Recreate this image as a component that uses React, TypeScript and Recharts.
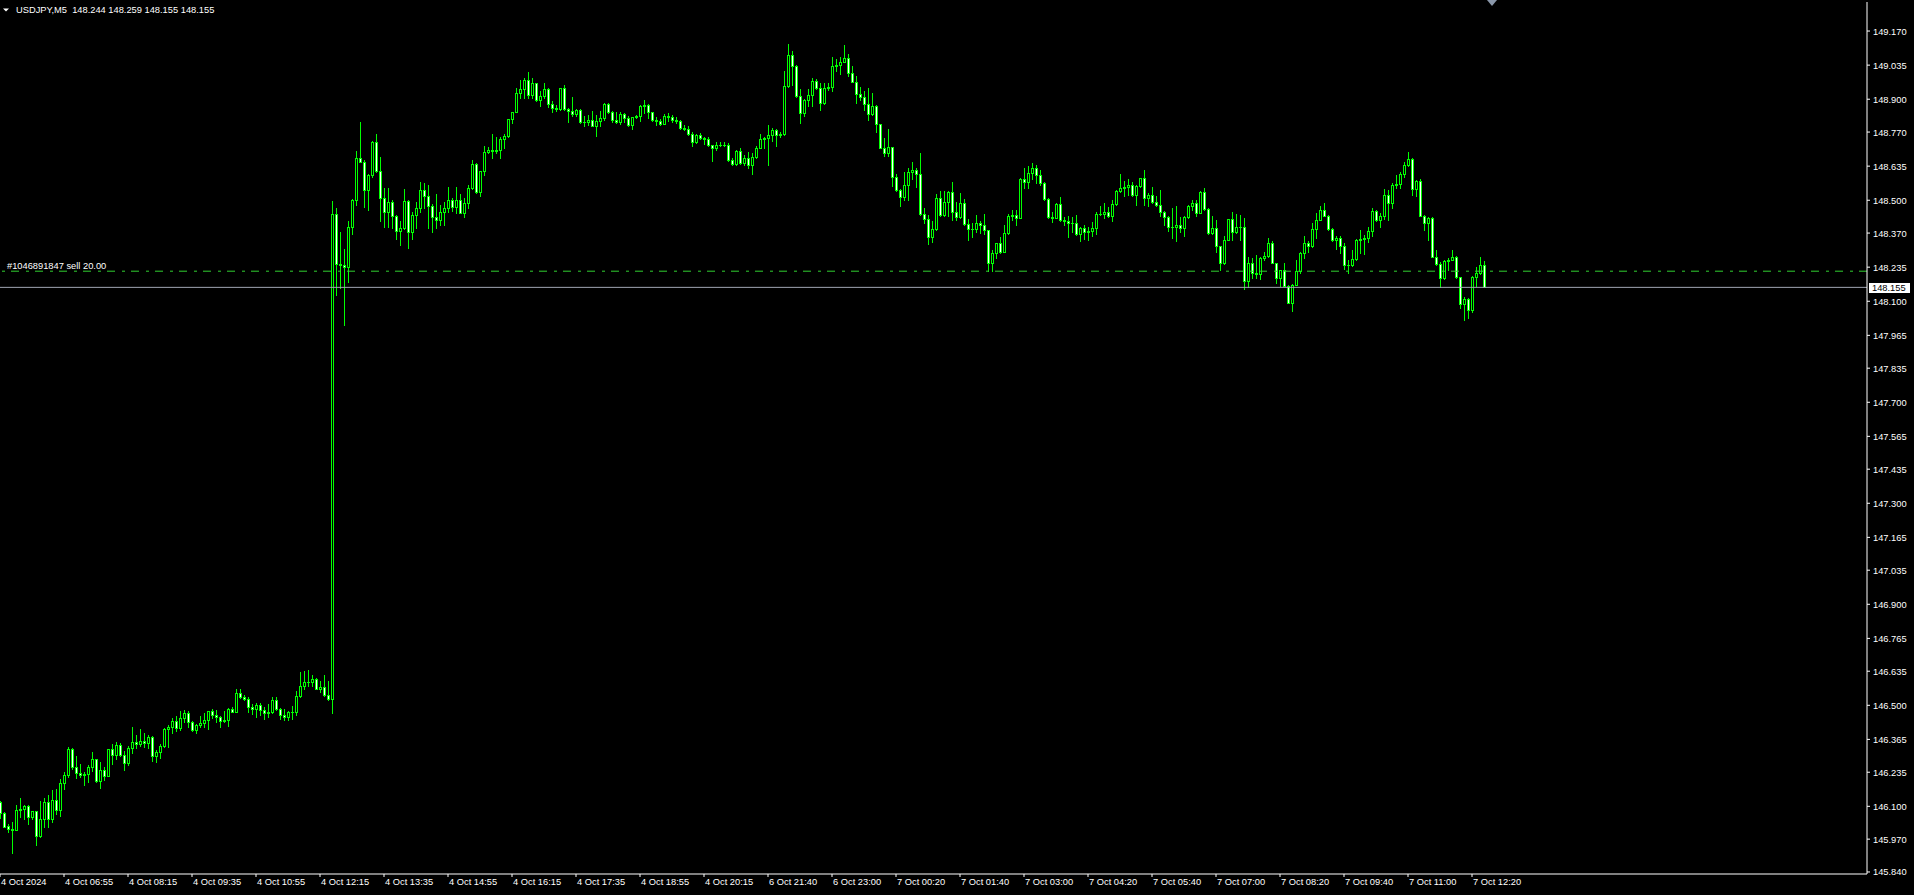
import React from "react";
import { ComposedChart, Bar, XAxis, YAxis, ReferenceLine } from "recharts";

// USDJPY M5, one entry per bar (4 Oct 05:35 .. 7 Oct 12:35)
const opens = [
  146.116, 146.075, 146.022, 146.009, 146.008, 146.084, 146.088, 146.101, 146.059, 146.080,
  145.984, 146.049, 146.116, 146.049, 146.125, 146.084, 146.191, 146.223, 146.327, 146.257,
  146.231, 146.226, 146.227, 146.256, 146.286, 146.199, 146.244, 146.222, 146.327, 146.302,
  146.344, 146.305, 146.273, 146.330, 146.354, 146.347, 146.360, 146.350, 146.376, 146.301,
  146.315, 146.339, 146.406, 146.413, 146.438, 146.410, 146.449, 146.468, 146.433, 146.402,
  146.422, 146.429, 146.442, 146.476, 146.462, 146.453, 146.439, 146.440, 146.486, 146.475,
  146.548, 146.534, 146.524, 146.492, 146.487, 146.500, 146.480, 146.468, 146.472, 146.520,
  146.484, 146.460, 146.455, 146.472, 146.474, 146.537, 146.577, 146.591, 146.594, 146.603,
  146.566, 146.571, 146.540, 146.524, 148.445, 148.249, 148.242, 148.234, 148.393, 148.502,
  148.667, 148.653, 148.539, 148.601, 148.731, 148.614, 148.508, 148.455, 148.495, 148.436,
  148.380, 148.389, 148.498, 148.374, 148.442, 148.469, 148.539, 148.515, 148.479, 148.432,
  148.422, 148.453, 148.469, 148.502, 148.475, 148.499, 148.449, 148.488, 148.548, 148.643,
  148.532, 148.614, 148.690, 148.700, 148.696, 148.699, 148.743, 148.755, 148.821, 148.849,
  148.924, 148.940, 148.977, 148.917, 148.964, 148.895, 148.913, 148.941, 148.880, 148.867,
  148.862, 148.944, 148.861, 148.855, 148.842, 148.858, 148.809, 148.810, 148.818, 148.795,
  148.814, 148.825, 148.882, 148.851, 148.818, 148.809, 148.842, 148.825, 148.796, 148.829,
  148.834, 148.874, 148.878, 148.849, 148.818, 148.814, 148.801, 148.832, 148.830, 148.818,
  148.814, 148.785, 148.783, 148.762, 148.729, 148.759, 148.748, 148.743, 148.717, 148.706,
  148.719, 148.720, 148.718, 148.660, 148.644, 148.696, 148.647, 148.669, 148.640, 148.673,
  148.706, 148.743, 148.745, 148.759, 148.779, 148.759, 148.763, 148.953, 149.076, 149.030,
  148.911, 148.845, 148.898, 148.917, 148.973, 148.946, 148.884, 148.946, 148.950, 149.030,
  149.036, 149.047, 149.063, 149.003, 148.970, 148.920, 148.907, 148.880, 148.841, 148.875,
  148.801, 148.706, 148.686, 148.710, 148.594, 148.539, 148.511, 148.561, 148.611, 148.620,
  148.603, 148.445, 148.425, 148.356, 148.387, 148.508, 148.440, 148.492, 148.532, 148.455,
  148.432, 148.488, 148.405, 148.387, 148.385, 148.409, 148.400, 148.383, 148.253, 148.290,
  148.330, 148.297, 148.370, 148.436, 148.442, 148.429, 148.585, 148.572, 148.607, 148.627,
  148.598, 148.568, 148.504, 148.432, 148.430, 148.484, 148.420, 148.416, 148.409, 148.408,
  148.366, 148.392, 148.374, 148.379, 148.389, 148.445, 148.447, 148.453, 148.438, 148.484,
  148.537, 148.550, 148.552, 148.561, 148.519, 148.557, 148.587, 148.508, 148.521, 148.495,
  148.482, 148.453, 148.432, 148.396, 148.394, 148.400, 148.390, 148.433, 148.478, 148.491,
  148.449, 148.532, 148.465, 148.370, 148.390, 148.317, 148.251, 148.343, 148.425, 148.376,
  148.396, 148.394, 148.182, 148.251, 148.211, 148.209, 148.271, 148.280, 148.330, 148.251,
  148.192, 148.222, 148.161, 148.095, 148.165, 148.218, 148.293, 148.330, 148.317, 148.386,
  148.423, 148.462, 148.438, 148.386, 148.341, 148.350, 148.320, 148.244, 148.245, 148.267,
  148.343, 148.346, 148.350, 148.379, 148.456, 148.420, 148.438, 148.522, 148.489, 148.561,
  148.565, 148.605, 148.640, 148.663, 148.544, 148.578, 148.438, 148.409, 148.429, 148.277,
  148.248, 148.192, 148.258, 148.264, 148.275, 148.196, 148.090, 148.108, 148.066, 148.198,
  148.211, 148.244,
];

const highs = [
  146.120, 146.079, 146.030, 146.037, 146.105, 146.133, 146.105, 146.105, 146.082, 146.081,
  146.121, 146.133, 146.145, 146.165, 146.169, 146.208, 146.235, 146.334, 146.329, 146.298,
  146.268, 146.236, 146.264, 146.315, 146.287, 146.277, 146.257, 146.328, 146.347, 146.355,
  146.351, 146.319, 146.339, 146.414, 146.381, 146.406, 146.389, 146.383, 146.378, 146.323,
  146.347, 146.410, 146.422, 146.449, 146.458, 146.476, 146.480, 146.476, 146.439, 146.425,
  146.458, 146.471, 146.477, 146.486, 146.480, 146.457, 146.478, 146.488, 146.492, 146.565,
  146.565, 146.541, 146.532, 146.504, 146.508, 146.508, 146.495, 146.505, 146.532, 146.532,
  146.491, 146.487, 146.478, 146.497, 146.556, 146.633, 146.635, 146.640, 146.619, 146.608,
  146.596, 146.620, 146.596, 148.498, 148.469, 148.376, 148.308, 148.418, 148.503, 148.696,
  148.809, 148.660, 148.602, 148.735, 148.763, 148.672, 148.548, 148.548, 148.499, 148.443,
  148.416, 148.545, 148.499, 148.453, 148.495, 148.574, 148.568, 148.561, 148.486, 148.525,
  148.482, 148.495, 148.554, 148.508, 148.552, 148.524, 148.508, 148.561, 148.660, 148.647,
  148.615, 148.713, 148.709, 148.763, 148.751, 148.751, 148.763, 148.822, 148.851, 148.944,
  148.977, 148.986, 149.007, 148.986, 148.965, 148.933, 148.964, 148.945, 148.891, 148.878,
  148.945, 148.957, 148.867, 148.909, 148.862, 148.860, 148.832, 148.838, 148.854, 148.838,
  148.854, 148.884, 148.884, 148.854, 148.849, 148.849, 148.845, 148.832, 148.830, 148.838,
  148.878, 148.898, 148.882, 148.851, 148.828, 148.822, 148.842, 148.845, 148.838, 148.828,
  148.818, 148.799, 148.792, 148.772, 148.762, 148.766, 148.752, 148.749, 148.719, 148.730,
  148.730, 148.730, 148.726, 148.667, 148.700, 148.706, 148.680, 148.693, 148.686, 148.713,
  148.762, 148.752, 148.799, 148.785, 148.782, 148.772, 149.010, 149.119, 149.092, 149.037,
  148.941, 148.902, 148.941, 148.986, 148.981, 148.964, 148.964, 148.964, 149.069, 149.060,
  149.069, 149.115, 149.078, 149.030, 148.990, 148.950, 148.933, 148.944, 148.924, 148.878,
  148.802, 148.746, 148.783, 148.711, 148.603, 148.545, 148.610, 148.627, 148.652, 148.627,
  148.686, 148.469, 148.442, 148.416, 148.525, 148.537, 148.537, 148.537, 148.574, 148.495,
  148.528, 148.506, 148.425, 148.409, 148.442, 148.416, 148.445, 148.384, 148.304, 148.331,
  148.356, 148.400, 148.445, 148.462, 148.462, 148.587, 148.627, 148.634, 148.647, 148.640,
  148.620, 148.574, 148.507, 148.455, 148.488, 148.512, 148.433, 148.436, 148.432, 148.442,
  148.396, 148.400, 148.396, 148.413, 148.455, 148.479, 148.488, 148.475, 148.502, 148.541,
  148.603, 148.577, 148.585, 148.574, 148.561, 148.590, 148.620, 148.528, 148.552, 148.515,
  148.541, 148.458, 148.436, 148.469, 148.478, 148.433, 148.438, 148.482, 148.499, 148.499,
  148.535, 148.548, 148.470, 148.436, 148.423, 148.318, 148.359, 148.427, 148.452, 148.446,
  148.442, 148.429, 148.277, 148.271, 148.284, 148.277, 148.297, 148.350, 148.337, 148.252,
  148.225, 148.251, 148.165, 148.169, 148.262, 148.297, 148.357, 148.337, 148.409, 148.449,
  148.478, 148.489, 148.442, 148.390, 148.359, 148.357, 148.330, 148.262, 148.301, 148.346,
  148.383, 148.363, 148.396, 148.469, 148.462, 148.449, 148.544, 148.539, 148.568, 148.601,
  148.610, 148.650, 148.693, 148.667, 148.581, 148.584, 148.442, 148.433, 148.433, 148.304,
  148.254, 148.262, 148.271, 148.301, 148.279, 148.198, 148.116, 148.112, 148.201, 148.235,
  148.275, 148.259,
];

const lows = [
  146.055, 146.017, 146.000, 145.917, 146.006, 146.058, 146.050, 146.031, 146.050, 145.948,
  145.980, 146.020, 146.020, 146.039, 146.070, 146.063, 146.167, 146.215, 146.249, 146.214,
  146.215, 146.186, 146.198, 146.241, 146.198, 146.174, 146.206, 146.221, 146.269, 146.286,
  146.299, 146.245, 146.265, 146.311, 146.329, 146.338, 146.336, 146.329, 146.278, 146.277,
  146.293, 146.335, 146.335, 146.389, 146.400, 146.402, 146.434, 146.416, 146.398, 146.392,
  146.416, 146.413, 146.408, 146.451, 146.433, 146.413, 146.435, 146.420, 146.473, 146.474,
  146.528, 146.521, 146.475, 146.466, 146.453, 146.462, 146.447, 146.455, 146.470, 146.482,
  146.446, 146.442, 146.443, 146.447, 146.463, 146.532, 146.566, 146.577, 146.577, 146.563,
  146.554, 146.537, 146.521, 146.471, 148.123, 148.152, 148.004, 148.178, 148.367, 148.482,
  148.650, 148.475, 148.462, 148.594, 148.612, 148.418, 148.396, 148.396, 148.389, 148.347,
  148.321, 148.388, 148.310, 148.347, 148.392, 148.455, 148.471, 148.389, 148.376, 148.389,
  148.403, 148.400, 148.453, 148.458, 148.449, 148.448, 148.432, 148.469, 148.546, 148.530,
  148.515, 148.598, 148.686, 148.667, 148.686, 148.667, 148.706, 148.752, 148.805, 148.848,
  148.904, 148.904, 148.904, 148.904, 148.894, 148.874, 148.904, 148.871, 148.851, 148.854,
  148.858, 148.858, 148.809, 148.832, 148.832, 148.805, 148.792, 148.799, 148.792, 148.756,
  148.792, 148.818, 148.845, 148.809, 148.805, 148.801, 148.809, 148.792, 148.783, 148.825,
  148.812, 148.845, 148.825, 148.814, 148.799, 148.796, 148.800, 148.814, 148.809, 148.805,
  148.783, 148.779, 148.759, 148.713, 148.726, 148.743, 148.722, 148.713, 148.656, 148.700,
  148.713, 148.713, 148.656, 148.640, 148.640, 148.643, 148.640, 148.627, 148.603, 148.669,
  148.705, 148.706, 148.638, 148.733, 148.713, 148.752, 148.760, 148.950, 148.957, 148.908,
  148.805, 148.832, 148.875, 148.875, 148.941, 148.858, 148.882, 148.937, 148.931, 149.010,
  149.000, 149.046, 148.990, 148.968, 148.884, 148.898, 148.858, 148.818, 148.838, 148.772,
  148.705, 148.677, 148.677, 148.558, 148.538, 148.479, 148.499, 148.499, 148.585, 148.554,
  148.442, 148.409, 148.326, 148.334, 148.383, 148.436, 148.436, 148.436, 148.422, 148.422,
  148.430, 148.403, 148.343, 148.356, 148.374, 148.370, 148.368, 148.220, 148.220, 148.271,
  148.290, 148.296, 148.368, 148.422, 148.400, 148.428, 148.550, 148.550, 148.585, 148.568,
  148.561, 148.499, 148.430, 148.412, 148.428, 148.419, 148.400, 148.356, 148.376, 148.363,
  148.337, 148.347, 148.343, 148.360, 148.366, 148.442, 148.429, 148.435, 148.416, 148.482,
  148.534, 148.515, 148.519, 148.515, 148.482, 148.554, 148.482, 148.479, 148.488, 148.479,
  148.436, 148.400, 148.379, 148.352, 148.337, 148.376, 148.357, 148.429, 148.462, 148.438,
  148.448, 148.462, 148.367, 148.367, 148.297, 148.222, 148.249, 148.341, 148.341, 148.372,
  148.343, 148.148, 148.156, 148.192, 148.192, 148.188, 148.265, 148.277, 148.250, 148.172,
  148.161, 148.160, 148.094, 148.060, 148.163, 148.211, 148.271, 148.297, 148.316, 148.350,
  148.420, 148.436, 148.383, 148.337, 148.306, 148.291, 148.227, 148.211, 148.240, 148.264,
  148.291, 148.288, 148.333, 148.357, 148.416, 148.396, 148.425, 148.423, 148.469, 148.548,
  148.548, 148.594, 148.636, 148.522, 148.515, 148.436, 148.383, 148.341, 148.276, 148.244,
  148.156, 148.188, 148.225, 148.262, 148.192, 148.073, 148.024, 148.033, 148.056, 148.159,
  148.209, 148.155,
];

const closes = [
  146.072, 146.020, 146.009, 146.008, 146.084, 146.088, 146.101, 146.059, 146.080, 145.984,
  146.049, 146.116, 146.049, 146.125, 146.084, 146.191, 146.223, 146.327, 146.257, 146.231,
  146.226, 146.227, 146.256, 146.286, 146.199, 146.244, 146.222, 146.327, 146.302, 146.344,
  146.305, 146.273, 146.330, 146.354, 146.347, 146.360, 146.350, 146.376, 146.301, 146.315,
  146.339, 146.406, 146.413, 146.438, 146.410, 146.449, 146.468, 146.433, 146.402, 146.422,
  146.429, 146.442, 146.476, 146.462, 146.453, 146.439, 146.440, 146.486, 146.475, 146.548,
  146.534, 146.524, 146.492, 146.487, 146.500, 146.480, 146.468, 146.472, 146.520, 146.484,
  146.460, 146.455, 146.472, 146.474, 146.537, 146.577, 146.591, 146.594, 146.603, 146.566,
  146.571, 146.540, 146.524, 148.445, 148.249, 148.242, 148.234, 148.393, 148.502, 148.667,
  148.653, 148.539, 148.601, 148.731, 148.614, 148.508, 148.455, 148.495, 148.436, 148.380,
  148.389, 148.498, 148.374, 148.442, 148.469, 148.539, 148.515, 148.479, 148.432, 148.422,
  148.453, 148.469, 148.502, 148.475, 148.499, 148.449, 148.488, 148.548, 148.643, 148.532,
  148.614, 148.690, 148.700, 148.696, 148.699, 148.743, 148.755, 148.821, 148.849, 148.924,
  148.940, 148.977, 148.917, 148.964, 148.895, 148.913, 148.941, 148.880, 148.867, 148.862,
  148.944, 148.861, 148.855, 148.842, 148.858, 148.809, 148.810, 148.818, 148.795, 148.814,
  148.825, 148.882, 148.851, 148.818, 148.809, 148.842, 148.825, 148.796, 148.829, 148.834,
  148.874, 148.878, 148.849, 148.818, 148.814, 148.801, 148.832, 148.830, 148.818, 148.814,
  148.785, 148.783, 148.762, 148.729, 148.759, 148.748, 148.743, 148.717, 148.706, 148.719,
  148.720, 148.718, 148.660, 148.644, 148.696, 148.647, 148.669, 148.640, 148.673, 148.706,
  148.743, 148.745, 148.759, 148.779, 148.759, 148.763, 148.953, 149.076, 149.030, 148.911,
  148.845, 148.898, 148.917, 148.973, 148.946, 148.884, 148.946, 148.950, 149.030, 149.036,
  149.047, 149.063, 149.003, 148.970, 148.920, 148.907, 148.880, 148.841, 148.875, 148.801,
  148.706, 148.686, 148.710, 148.594, 148.539, 148.511, 148.561, 148.611, 148.620, 148.603,
  148.445, 148.425, 148.356, 148.387, 148.508, 148.440, 148.492, 148.532, 148.455, 148.432,
  148.488, 148.405, 148.387, 148.385, 148.409, 148.400, 148.383, 148.253, 148.290, 148.330,
  148.297, 148.370, 148.436, 148.442, 148.429, 148.585, 148.572, 148.607, 148.627, 148.598,
  148.568, 148.504, 148.432, 148.430, 148.484, 148.420, 148.416, 148.409, 148.408, 148.366,
  148.392, 148.374, 148.379, 148.389, 148.445, 148.447, 148.453, 148.438, 148.484, 148.537,
  148.550, 148.552, 148.561, 148.519, 148.557, 148.587, 148.508, 148.521, 148.495, 148.482,
  148.453, 148.432, 148.396, 148.394, 148.400, 148.390, 148.433, 148.478, 148.491, 148.449,
  148.532, 148.465, 148.370, 148.390, 148.317, 148.251, 148.343, 148.425, 148.376, 148.396,
  148.394, 148.182, 148.251, 148.211, 148.209, 148.271, 148.280, 148.330, 148.251, 148.192,
  148.222, 148.161, 148.095, 148.165, 148.218, 148.293, 148.330, 148.317, 148.386, 148.423,
  148.462, 148.438, 148.386, 148.341, 148.350, 148.320, 148.244, 148.245, 148.267, 148.343,
  148.346, 148.350, 148.379, 148.456, 148.420, 148.438, 148.522, 148.489, 148.561, 148.565,
  148.605, 148.640, 148.663, 148.544, 148.578, 148.438, 148.409, 148.429, 148.277, 148.248,
  148.192, 148.258, 148.264, 148.275, 148.196, 148.090, 148.108, 148.066, 148.198, 148.211,
  148.244, 148.155,
];

// one label every 16 bars
const timeLabels = [
  "4 Oct 2024", "4 Oct 06:55", "4 Oct 08:15", "4 Oct 09:35", "4 Oct 10:55", "4 Oct 12:15",
  "4 Oct 13:35", "4 Oct 14:55", "4 Oct 16:15", "4 Oct 17:35", "4 Oct 18:55", "4 Oct 20:15",
  "6 Oct 21:40", "6 Oct 23:00", "7 Oct 00:20", "7 Oct 01:40", "7 Oct 03:00", "7 Oct 04:20",
  "7 Oct 05:40", "7 Oct 07:00", "7 Oct 08:20", "7 Oct 09:40", "7 Oct 11:00", "7 Oct 12:20",
];
const labelStep = 16;

const priceTicks = [
  145.84, 145.97, 146.1, 146.235, 146.365, 146.5, 146.635, 146.765, 146.9, 147.035,
  147.165, 147.3, 147.435, 147.565, 147.7, 147.835, 147.965, 148.1, 148.235, 148.37,
  148.5, 148.635, 148.77, 148.9, 149.035, 149.17,
];

const symbolTitle = "USDJPY,M5";
const orderText = "#1046891847 sell 20.00";
const orderPrice = 148.219;
const bidPrice = 148.155;

const candles = opens.map((o, i) => ({
  i,
  open: o,
  high: highs[i],
  low: lows[i],
  close: closes[i],
}));

const GREEN = "#00ff00";
const FONT = "'Liberation Sans', Arial, sans-serif";

function Candle(props: any) {
  const { x, y, width, height, payload } = props;
  if (x == null || !payload) return null;
  const top = Math.min(y, y + height);
  const span = Math.abs(height);
  const hi = Math.max(payload.high, payload.open, payload.close);
  const lo = Math.min(payload.low, payload.open, payload.close);
  const toY = (p: number) => top + ((hi - p) / (hi - lo || 1)) * span;
  const cx = Math.round(x + width / 2);
  const wTop = Math.round(toY(hi));
  const wBot = Math.round(toY(lo));
  const bTop = Math.round(toY(Math.max(payload.open, payload.close)));
  const bBot = Math.round(toY(Math.min(payload.open, payload.close)));
  const bear = payload.close < payload.open;
  return (
    <g shapeRendering="crispEdges">
      <rect x={cx} y={wTop} width={1} height={Math.max(1, wBot - wTop + 1)} fill={GREEN} />
      <rect x={cx - 1} y={bTop} width={3} height={Math.max(1, bBot - bTop + 1)} fill={GREEN} />
      {bBot - bTop >= 2 && (
        <rect x={cx} y={bTop + 1} width={1} height={bBot - bTop - 1} fill={bear ? "#ffffff" : "#000000"} />
      )}
    </g>
  );
}

function TimeTick(props: any) {
  const { x, y, payload } = props;
  const label = timeLabels[Math.round(payload.value / labelStep)];
  return (
    <text x={x + 1} y={y + 8} fill="#fff" fontSize={9.3} fontFamily={FONT} textAnchor="start">
      {label}
    </text>
  );
}

function PriceTick(props: any) {
  const { x, y, payload } = props;
  return (
    <text x={x} y={y + 3.5} fill="#fff" fontSize={9.3} fontFamily={FONT} textAnchor="start">
      {Number(payload.value).toFixed(3)}
    </text>
  );
}

function OrderLabel(props: any) {
  const vb = props.viewBox || {};
  return (
    <text x={(vb.x || 0) + 7} y={(vb.y || 0) - 2} fill="#fff" fontSize={9.3} fontFamily={FONT}>
      {orderText}
    </text>
  );
}

function BidLabel(props: any) {
  const vb = props.viewBox || {};
  const right = (vb.x || 0) + (vb.width || 0);
  const ly = vb.y || 0;
  return (
    <g shapeRendering="crispEdges">
      <rect x={right + 2} y={ly - 4.5} width={41} height={10.5} fill="#fff" />
      <text x={right + 5} y={ly + 4} fill="#000" fontSize={9.3} fontFamily={FONT}>
        {bidPrice.toFixed(3)}
      </text>
    </g>
  );
}

export default function App() {
  const tickIdx = timeLabels.map((_, k) => k * labelStep);
  return (
    <div style={{ position: "fixed", left: 0, top: 0, width: 1914, height: 895, background: "#000" }}>
      <ComposedChart
        width={1914}
        height={895}
        data={candles}
        margin={{ top: 2, right: 0, bottom: 0, left: 0 }}
      >
        <XAxis
          xAxisId="top"
          orientation="top"
          height={0}
          tick={false}
          tickLine={false}
          axisLine={{ stroke: "#fff" }}
        />
        <XAxis
          dataKey="i"
          type="number"
          domain={[0, 466.75]}
          allowDataOverflow
          ticks={tickIdx}
          interval={0}
          height={21}
          tickSize={3}
          tickMargin={0}
          axisLine={{ stroke: "#fff" }}
          tickLine={{ stroke: "#fff" }}
          tick={<TimeTick />}
        />
        <YAxis
          orientation="right"
          width={47}
          domain={[145.832, 149.285]}
          allowDataOverflow
          ticks={priceTicks}
          interval={0}
          tickSize={3}
          tickMargin={3}
          axisLine={{ stroke: "#fff" }}
          tickLine={{ stroke: "#fff" }}
          tick={<PriceTick />}
        />
        <ReferenceLine
          y={orderPrice}
          stroke="#30d030"
          strokeDasharray="8 6 3 7"
          label={(p: any) => <OrderLabel {...p} />}
        />
        <ReferenceLine
          y={bidPrice}
          stroke="#a0a5b2"
          label={(p: any) => <BidLabel {...p} />}
        />
        <Bar
          dataKey={(d: any) => [d.low, d.high]}
          barSize={3}
          shape={<Candle />}
          isAnimationActive={false}
        />
      </ComposedChart>
      <svg
        width={1914}
        height={895}
        style={{ position: "absolute", left: 0, top: 0, pointerEvents: "none" }}
      >
        <polygon points="3,8.5 9,8.5 6,11.5" fill="#fff" />
        <text x={16} y={13} fill="#fff" fontSize={9.3} fontFamily={FONT} xmlSpace="preserve">
          {symbolTitle + "  " + [opens[371], highs[371], lows[371], closes[371]].map((v) => v.toFixed(3)).join(" ")}
        </text>
        <polygon points="1487,0 1497,0 1492,6" fill="#8a97aa" />
      </svg>
    </div>
  );
}
